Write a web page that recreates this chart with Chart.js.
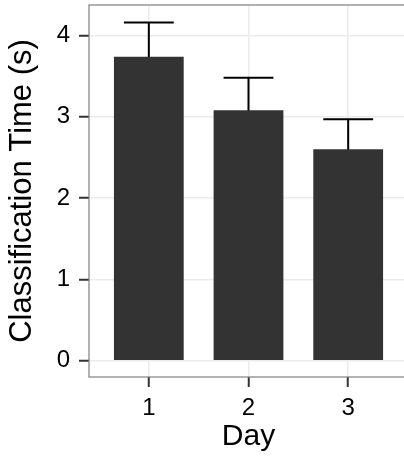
<!DOCTYPE html>
<html>
<head>
<meta charset="utf-8">
<script src="https://cdn.jsdelivr.net/npm/chart.js@4"></script>
<style>
  html, body { margin: 0; padding: 0; background: #fff; overflow: hidden; width: 404px; height: 458px; }
  #wrap { width: 404px; height: 458px; overflow: hidden; position: relative; }
  canvas { display: block; }
</style>
</head>
<body>
<div id="wrap"><canvas id="c" width="420" height="458"></canvas></div>
<script>
// ---- data ----
const days = [1, 2, 3];
const dayLabels = ['1', '2', '3'];
const meanTime = [3.74, 3.08, 2.60];
const seTime = [0.42, 0.40, 0.37];
const yTickValues = [0, 1, 2, 3, 4];
const yLimits = [-0.2, 4.375];
const xLimits = [0.4, 3.6];
const xTitle = 'Day';
const yTitle = 'Classification Time (s)';

const FONT = '"Liberation Sans", Arial, Helvetica, sans-serif';

const errorBars = {
  id: 'errorBars',
  beforeDatasetsDraw(chart) {
    const { ctx, scales: { x, y } } = chart;
    ctx.save();
    ctx.strokeStyle = '#000';
    ctx.lineWidth = 2;
    ctx.lineCap = 'butt';
    const half = Math.abs(x.getPixelForValue(0.25) - x.getPixelForValue(0));
    days.forEach((d, i) => {
      const px = x.getPixelForValue(d);
      const lo = y.getPixelForValue(meanTime[i] - seTime[i]);
      const hi = y.getPixelForValue(meanTime[i] + seTime[i]);
      ctx.beginPath();
      ctx.moveTo(px, lo); ctx.lineTo(px, hi);
      ctx.moveTo(px - half, hi); ctx.lineTo(px + half, hi);
      ctx.moveTo(px - half, lo); ctx.lineTo(px + half, lo);
      ctx.stroke();
    });
    ctx.restore();
  }
};

const panelBorder = {
  id: 'panelBorder',
  afterDraw(chart) {
    const { ctx, chartArea: a } = chart;
    ctx.save();
    ctx.strokeStyle = '#7F7F7F';
    ctx.lineWidth = 1.2;
    ctx.strokeRect(a.left, a.top, a.right - a.left, a.bottom - a.top);
    ctx.restore();
  }
};

new Chart(document.getElementById('c'), {
  type: 'bar',
  data: {
    datasets: [{
      data: days.map((d, i) => ({ x: d, y: meanTime[i] })),
      backgroundColor: '#333333',
      borderWidth: 0,
      barPercentage: 1.0,
      categoryPercentage: 0.7
    }]
  },
  options: {
    responsive: false,
    animation: false,
    layout: { padding: { left: 1, top: 5, right: 12, bottom: 0 } },
    plugins: { legend: { display: false }, tooltip: { enabled: false } },
    scales: {
      x: {
        type: 'linear',
        offset: false,
        min: xLimits[0], max: xLimits[1],
        afterBuildTicks: (s) => { s.ticks = days.map(v => ({ value: v })); },
        afterFit: (s) => { s.height = 81; s.paddingLeft = 0; s.paddingRight = 0; },
        grid: { offset: false, color: '#EBEBEB', lineWidth: 1.5, tickColor: '#333333', tickWidth: 2, tickLength: 10 },
        border: { display: false },
        ticks: {
          callback: (v) => dayLabels[days.indexOf(v)] ?? '',
          color: '#000', padding: 7, maxRotation: 0,
          font: { family: FONT, size: 24 }
        },
        title: {
          display: true, text: xTitle, color: '#000',
          font: { family: FONT, size: 30 }, padding: { top: 0, bottom: 3 }
        }
      },
      y: {
        min: yLimits[0], max: yLimits[1],
        afterBuildTicks: (s) => { s.ticks = yTickValues.map(v => ({ value: v })); },
        afterFit: (s) => { s.width = 88; s.paddingTop = 0; s.paddingBottom = 0; },
        grid: { color: '#EBEBEB', lineWidth: 1.5, tickColor: '#333333', tickWidth: 2, tickLength: 10 },
        border: { display: false },
        ticks: {
          color: '#000', padding: 9,
          font: { family: FONT, size: 24 }
        },
        title: {
          display: true, text: yTitle, color: '#000',
          font: { family: FONT, size: 31 }, padding: { top: 3, bottom: 4 }
        }
      }
    }
  },
  plugins: [errorBars, panelBorder]
});
</script>
</body>
</html>
